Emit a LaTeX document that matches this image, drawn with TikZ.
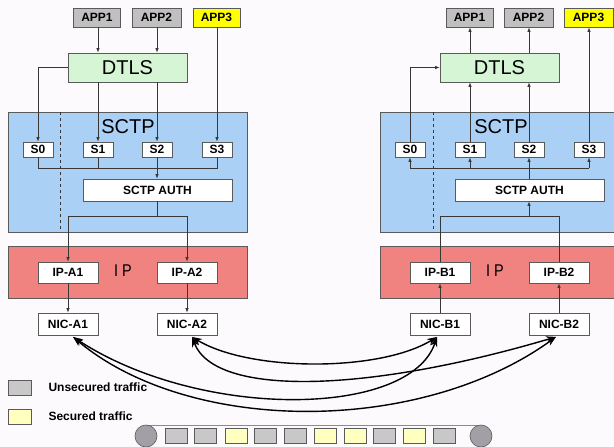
\documentclass[tikz,border=0pt]{standalone}
\usepackage{fontspec}
\setmainfont{Liberation Sans}
\usetikzlibrary{arrows.meta}

\definecolor{bg}{RGB}{253,250,253}
\definecolor{boxline}{RGB}{90,90,90}
\definecolor{wire}{RGB}{55,55,55}
\definecolor{appgray}{RGB}{192,192,192}
\definecolor{appyellow}{RGB}{255,255,0}
\definecolor{dtlsgreen}{RGB}{213,245,213}
\definecolor{sctpblue}{RGB}{170,208,245}
\definecolor{ipred}{RGB}{240,130,128}
\definecolor{pktgray}{RGB}{200,200,200}
\definecolor{pktyellow}{RGB}{255,255,192}
\definecolor{roller}{RGB}{162,160,166}

\tikzset{
  lbl/.style={font=\fontsize{12}{14}\selectfont\bfseries},
  box/.style={lbl, draw=boxline, fill=white, line width=0.8pt, inner sep=0pt},
  appbox/.style={box, minimum width=47pt, minimum height=19pt},
  strbox/.style={box, minimum width=30pt, minimum height=15pt},
  ipbox/.style={box, minimum width=60pt, minimum height=21pt},
  nicbox/.style={box, minimum width=60pt, minimum height=22pt},
  authbox/.style={box, minimum width=149pt, minimum height=22pt},
  dtlsbox/.style={draw=boxline, fill=dtlsgreen, line width=0.8pt, minimum width=119pt,
    minimum height=29pt, inner sep=0pt, font=\fontsize{20}{22}\selectfont},
  layer/.style={draw=boxline, line width=0.8pt},
  layername/.style={font=\fontsize{20}{22}\selectfont},
  iplabel/.style={font=\fontsize{17}{19}\selectfont, text=black, xscale=0.85},
  link/.style={draw=wire, line width=0.7pt},
  arr/.style={link, -{Latex[length=4.5pt,width=3.5pt]}},
  traffic/.style={draw=black, line width=1.4pt,
    {Stealth[length=10pt,width=7pt]}-{Stealth[length=10pt,width=7pt]}},
  pkt/.style={draw=boxline, line width=0.6pt, minimum width=22pt, minimum height=15pt, inner sep=0pt},
  legtext/.style={anchor=west, font=\fontsize{12}{14}\selectfont\bfseries},
}

\begin{document}
\begin{tikzpicture}[x=1pt,y=-1pt]
\useasboundingbox (0,0) rectangle (614,447);
\clip (0,0) rectangle (614,447);
\fill[bg] (0,0) rectangle (614,447);

% ---------- layer backgrounds ----------
\draw[layer, fill=sctpblue] (8,112) rectangle (247,232);
\draw[layer, fill=ipred] (8,246) rectangle (247,298);
\draw[layer, fill=sctpblue] (380,112) rectangle (630,232);
\draw[layer, fill=ipred] (380,246) rectangle (630,298);
\draw[wire, dashed, line width=0.6pt] (60,112) -- (60,232);
\draw[wire, dashed, line width=0.6pt] (433,112) -- (433,232);
\node[layername] (sctpA) at (128,127) {SCTP};
\node[layername] (sctpB) at (501,127) {SCTP};
\node[iplabel] (ipA) at (123,271) {I P};
\node[iplabel] (ipB) at (495,271) {I P};

% ---------- host A (sender) ----------
\node[appbox, fill=appgray] (A1) at (97,17.5) {APP1};
\node[appbox, fill=appgray, minimum width=49pt] (A2) at (156.5,17.5) {APP2};
\node[appbox, fill=appyellow] (A3) at (216.5,17.5) {APP3};
\node[dtlsbox] (DA) at (127.5,67.5) {DTLS};
\node[strbox] (SA0) at (38,149.5) {S0};
\node[strbox] (SA1) at (98,149.5) {S1};
\node[strbox] (SA2) at (157,149.5) {S2};
\node[strbox] (SA3) at (217,149.5) {S3};
\node[authbox] (AUA) at (157.5,190) {SCTP AUTH};
\node[ipbox] (IPA1) at (68,272.5) {IP-A1};
\node[ipbox] (IPA2) at (187,272.5) {IP-A2};
\node[nicbox] (NA1) at (68,324) {NIC-A1};
\node[nicbox] (NA2) at (187,324) {NIC-A2};

\coordinate (busA) at (0,168);
\coordinate (ipbusA) at (0,216);

\draw[arr] (SA1.north |- A1.south) -- (SA1.north |- DA.north);
\draw[arr] (SA2.north |- A2.south) -- (SA2.north |- DA.north);
\draw[arr] (A3.south -| SA3.north) -- (SA3.north);
\draw[arr] (DA.west) -| (SA0.north);
\draw[arr] (SA1.north |- DA.south) -- (SA1.north);
\draw[arr] (SA2.north |- DA.south) -- (SA2.north);
\draw[link] (SA0.south) -- (SA0.south |- busA) -- (SA3.south |- busA) -- (SA3.south);
\draw[link] (SA1.south) -- (SA1.south |- busA);
\draw[arr] (SA2.south) -- (SA2.south |- AUA.north);
\draw[link] (SA2.south |- AUA.south) -- (SA2.south |- ipbusA);
\draw[link] (IPA1.north |- ipbusA) -- (IPA2.north |- ipbusA);
\draw[arr] (IPA1.north |- ipbusA) -- (IPA1.north);
\draw[arr] (IPA2.north |- ipbusA) -- (IPA2.north);
\draw[arr] (IPA1.south) -- (NA1.north);
\draw[arr] (IPA2.south) -- (NA2.north);

% ---------- host B (receiver) ----------
\node[appbox, fill=appgray] (B1) at (469.5,17.5) {APP1};
\node[appbox, fill=appgray, minimum width=49pt] (B2) at (528.5,17.5) {APP2};
\node[appbox, fill=appyellow, minimum width=49pt] (B3) at (588.5,17.5) {APP3};
\node[dtlsbox] (DB) at (499.5,67.5) {DTLS};
\node[strbox] (SB0) at (410,149.5) {S0};
\node[strbox] (SB1) at (470,149.5) {S1};
\node[strbox] (SB2) at (529,149.5) {S2};
\node[strbox] (SB3) at (589,149.5) {S3};
\node[authbox] (AUB) at (529.5,190) {SCTP AUTH};
\node[ipbox] (IPB1) at (440,272.5) {IP-B1};
\node[ipbox] (IPB2) at (559,272.5) {IP-B2};
\node[nicbox] (NB1) at (440,324) {NIC-B1};
\node[nicbox] (NB2) at (559,324) {NIC-B2};

\coordinate (busB) at (0,168);
\coordinate (ipbusB) at (0,216);

\draw[arr] (SB1.north |- DB.north) -- (SB1.north |- B1.south);
\draw[arr] (SB2.north |- DB.north) -- (SB2.north |- B2.south);
\draw[arr] (SB3.north) -- (SB3.north |- B3.south);
\draw[arr] (SB0.north) |- (DB.west);
\draw[arr] (SB1.north) -- (SB1.north |- DB.south);
\draw[arr] (SB2.north) -- (SB2.north |- DB.south);
\draw[link] (SB0.south |- busB) -- (SB3.south |- busB);
\draw[arr] (SB0.south |- busB) -- (SB0.south);
\draw[arr] (SB1.south |- busB) -- (SB1.south);
\draw[arr] (SB3.south |- busB) -- (SB3.south);
\draw[arr] (SB2.south |- AUB.north) -- (SB2.south);
\draw[link] (IPB1.north) -- (IPB1.north |- ipbusB) -- (IPB2.north |- ipbusB) -- (IPB2.north);
\draw[arr] (SB2.south |- ipbusB) -- (SB2.south |- AUB.south);
\draw[arr] (NB1.north) -- (IPB1.south);
\draw[arr] (NB2.north) -- (IPB2.south);

% ---------- links between the network cards ----------
\coordinate (tA1) at ([xshift=5pt,yshift=-1.5pt]NA1.south);
\coordinate (tA2) at ([xshift=5pt,yshift=-1.5pt]NA2.south);
\coordinate (tB1) at ([xshift=-3pt,yshift=-1.5pt]NB1.south);
\coordinate (tB2) at ([xshift=-3pt,yshift=-1.5pt]NB2.south);
\draw[traffic] (tA2) .. controls (250,372) and (380,372) .. (tB1);
\draw[traffic] (tA2) .. controls (215,398) and (370,392) .. (tB2);
\draw[traffic] (tA1) .. controls (200,420) and (410,418) .. (tB1);
\draw[traffic] (tA1) .. controls (190,435) and (420,435) .. (tB2);

% ---------- legend ----------
\node[pkt, fill=pktgray, minimum width=23pt] (legU) at (19.5,387.5) {};
\node[pkt, fill=pktyellow, minimum width=23pt] (legS) at (19.5,416.5) {};
\node[legtext] (legUt) at (45,387.5) {Unsecured traffic};
\node[legtext] (legSt) at (45,416.5) {Secured traffic};

% ---------- conveyor of packets ----------
\draw[draw=boxline!70, line width=0.6pt] (146,425) -- (481,425);
\draw[draw=boxline!70, line width=0.6pt] (146,447) -- (481,447);
\node[circle, draw=boxline, fill=roller, line width=0.6pt, minimum size=22pt, inner sep=0pt] (rollL) at (146,436) {};
\node[circle, draw=boxline, fill=roller, line width=0.6pt, minimum size=22pt, inner sep=0pt] (rollR) at (481,436) {};
\foreach \x/\c [count=\i] in {176/pktgray, 205/pktgray, 236/pktyellow, 265/pktgray, 295/pktgray,
    325/pktyellow, 355/pktyellow, 384/pktgray, 414/pktyellow, 444/pktgray}
  \node[pkt, fill=\c] (p\i) at (\x,435.5) {};
\end{tikzpicture}
\end{document}
